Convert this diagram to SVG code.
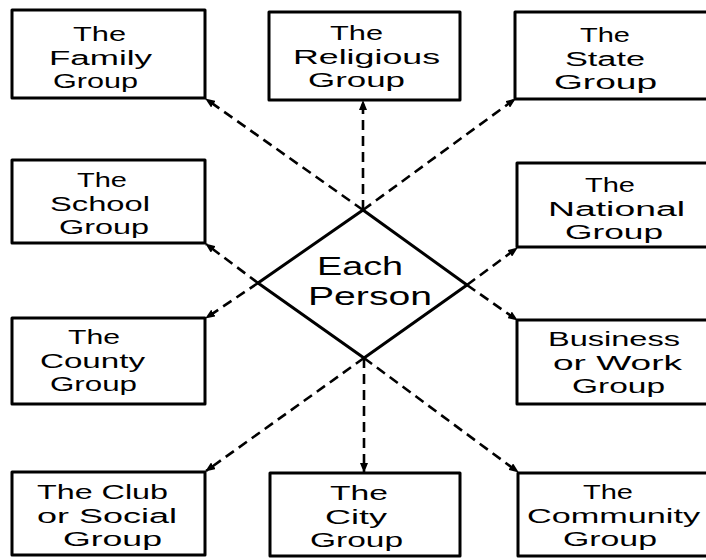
<svg xmlns="http://www.w3.org/2000/svg" width="706" height="560" viewBox="0 0 706 560">
<style>
.box{fill:none;stroke:#000;stroke-width:3;stroke-linejoin:round}
.t{font-family:"Liberation Sans","DejaVu Sans",sans-serif;font-size:20px;fill:#000;text-anchor:middle}
.p{font-size:26px}
.c{stroke:#000;stroke-width:2.6;stroke-dasharray:10 6;fill:none}
.d{fill:none;stroke:#000;stroke-width:3;stroke-linejoin:round}
</style>
<defs>
<marker id="ah" viewBox="0 0 10 8" refX="9" refY="4" markerWidth="10" markerHeight="8" markerUnits="userSpaceOnUse" orient="auto">
<path d="M0,0 L10,4 L0,8 Z" fill="#000"/>
</marker>
</defs>
<rect width="706" height="560" fill="#fff"/>

<g id="connectors">
<line class="c" x1="363" y1="210" x2="206" y2="99" marker-end="url(#ah)"/>
<line class="c" x1="363" y1="210" x2="515" y2="99" marker-end="url(#ah)"/>
<line class="c" x1="363" y1="210" x2="363" y2="101" marker-end="url(#ah)"/>
<line class="c" x1="258" y1="283" x2="206" y2="244" marker-end="url(#ah)"/>
<line class="c" x1="258" y1="283" x2="206" y2="318" marker-end="url(#ah)"/>
<line class="c" x1="467" y1="285" x2="517" y2="248" marker-end="url(#ah)"/>
<line class="c" x1="467" y1="285" x2="517" y2="320" marker-end="url(#ah)"/>
<line class="c" x1="364" y1="358" x2="206" y2="471" marker-end="url(#ah)"/>
<line class="c" x1="364" y1="358" x2="364" y2="472" marker-end="url(#ah)"/>
<line class="c" x1="364" y1="358" x2="518" y2="472" marker-end="url(#ah)"/>
</g>

<g id="each-person">
<polygon class="d" points="363,210 467,285 364,358 258,283"/>
<text class="t p" x="360" y="275" textLength="86" lengthAdjust="spacingAndGlyphs">Each</text>
<text class="t p" x="370" y="305" textLength="124" lengthAdjust="spacingAndGlyphs">Person</text>
</g>

<g id="family">
<rect class="box" x="12" y="10" width="193" height="88"/>
<text class="t" x="99.5" y="41" textLength="53" lengthAdjust="spacingAndGlyphs">The</text>
<text class="t" x="100.5" y="64.5" textLength="103" lengthAdjust="spacingAndGlyphs">Family</text>
<text class="t" x="95.5" y="88" textLength="85" lengthAdjust="spacingAndGlyphs">Group</text>
</g>

<g id="religious">
<rect class="box" x="269" y="12" width="191" height="88"/>
<text class="t" x="356.5" y="40" textLength="53" lengthAdjust="spacingAndGlyphs">The</text>
<text class="t" x="366.5" y="63.5" textLength="147" lengthAdjust="spacingAndGlyphs">Religious</text>
<text class="t" x="356.5" y="87" textLength="97" lengthAdjust="spacingAndGlyphs">Group</text>
</g>

<g id="state">
<path class="box" d="M708,12 H515 V99 H708"/>
<text class="t" x="605" y="42" textLength="50" lengthAdjust="spacingAndGlyphs">The</text>
<text class="t" x="605" y="65.5" textLength="80" lengthAdjust="spacingAndGlyphs">State</text>
<text class="t" x="605.5" y="89" textLength="103" lengthAdjust="spacingAndGlyphs">Group</text>
</g>

<g id="school">
<rect class="box" x="12" y="160" width="193" height="83"/>
<text class="t" x="102" y="187" textLength="50" lengthAdjust="spacingAndGlyphs">The</text>
<text class="t" x="100" y="210.5" textLength="100" lengthAdjust="spacingAndGlyphs">School</text>
<text class="t" x="104" y="234" textLength="90" lengthAdjust="spacingAndGlyphs">Group</text>
</g>

<g id="national">
<path class="box" d="M708,163 H517 V247 H708"/>
<text class="t" x="610" y="192" textLength="50" lengthAdjust="spacingAndGlyphs">The</text>
<text class="t" x="616.5" y="215.5" textLength="137" lengthAdjust="spacingAndGlyphs">National</text>
<text class="t" x="614" y="239" textLength="98" lengthAdjust="spacingAndGlyphs">Group</text>
</g>

<g id="county">
<rect class="box" x="12" y="318" width="193" height="86"/>
<text class="t" x="94" y="344" textLength="52" lengthAdjust="spacingAndGlyphs">The</text>
<text class="t" x="92.5" y="367.5" textLength="105" lengthAdjust="spacingAndGlyphs">County</text>
<text class="t" x="93.5" y="391" textLength="87" lengthAdjust="spacingAndGlyphs">Group</text>
</g>

<g id="business">
<path class="box" d="M708,320 H517 V404 H708"/>
<text class="t" x="614" y="346" textLength="132" lengthAdjust="spacingAndGlyphs">Business</text>
<text class="t" x="617.5" y="369.5" textLength="129" lengthAdjust="spacingAndGlyphs">or Work</text>
<text class="t" x="618.5" y="393" textLength="93" lengthAdjust="spacingAndGlyphs">Group</text>
</g>

<g id="club">
<rect class="box" x="12" y="472" width="193" height="83"/>
<text class="t" x="102.5" y="499" textLength="131" lengthAdjust="spacingAndGlyphs">The Club</text>
<text class="t" x="107" y="522.5" textLength="140" lengthAdjust="spacingAndGlyphs">or Social</text>
<text class="t" x="112.5" y="546" textLength="99" lengthAdjust="spacingAndGlyphs">Group</text>
</g>

<g id="city">
<rect class="box" x="270" y="473" width="190" height="83"/>
<text class="t" x="359" y="500" textLength="58" lengthAdjust="spacingAndGlyphs">The</text>
<text class="t" x="356" y="523.5" textLength="62" lengthAdjust="spacingAndGlyphs">City</text>
<text class="t" x="356.5" y="547" textLength="93" lengthAdjust="spacingAndGlyphs">Group</text>
</g>

<g id="community">
<path class="box" d="M708,473 H518 V556 H708"/>
<text class="t" x="608" y="499" textLength="50" lengthAdjust="spacingAndGlyphs">The</text>
<text class="t" x="613.5" y="522.5" textLength="173" lengthAdjust="spacingAndGlyphs">Community</text>
<text class="t" x="610" y="546" textLength="94" lengthAdjust="spacingAndGlyphs">Group</text>
</g>
</svg>
